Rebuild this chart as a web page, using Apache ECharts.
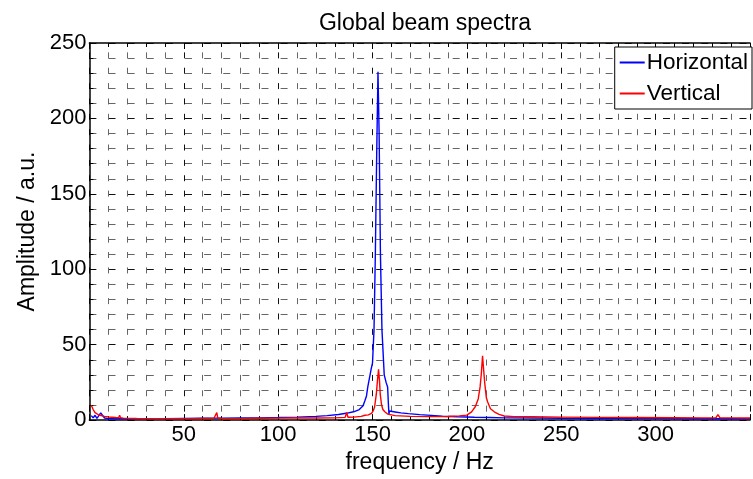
<!DOCTYPE html>
<html>
<head>
<meta charset="UTF-8" />
<title>Global beam spectra</title>
<script src="https://cdn.jsdelivr.net/npm/echarts@6.0.0/dist/echarts.min.js"></script>
<style>
  html, body { margin: 0; padding: 0; background: #fff; }
  #chart { width: 753px; height: 479px; }
</style>
</head>
<body>
<div id="chart"></div>
<script>
// Horizontal spectrum (frequency / Hz, amplitude / a.u.)
var freqH = [1, 2, 3, 4, 5, 6, 7, 8, 10, 14, 20, 30, 40, 50, 60, 70, 80, 90, 100, 110, 120, 126, 132, 136, 140, 143, 145, 146, 146.8, 147.5, 148.4, 149.3, 150, 150.8, 151.5, 152.2, 152.9, 153.5, 154.2, 155, 156.2, 157.2, 158, 158.4, 158.7, 159, 160, 162, 165, 169, 175, 181, 187, 195, 204, 212, 220, 235, 250, 265, 280, 300, 320, 335, 350];
var ampH = [3, 1.5, 3.2, 1.2, 2.5, 4.8, 4, 1.4, 1, 0.9, 0.9, 1, 1, 1.1, 1.2, 1.3, 1.4, 1.5, 1.7, 2, 2.5, 3, 3.7, 4.5, 5.5, 7, 9.5, 13, 16, 22, 28, 34, 38, 60, 110, 175, 231, 190, 110, 60, 30, 25, 22, 11, 4, 6, 5.8, 5.4, 4.8, 4.3, 3.6, 3.1, 2.6, 2.2, 1.9, 1.7, 1.5, 1.4, 1.2, 1.1, 1.0, 1.0, 0.9, 0.9, 0.9];

// Vertical spectrum
var freqV = [1, 2, 3, 4, 5, 6, 8, 10, 14, 15.5, 16, 16.5, 18, 25, 35, 45, 55, 66, 67.5, 68, 68.5, 70, 80, 89, 90, 91, 100, 110, 120, 130, 135.5, 136.3, 137, 140, 144, 146, 147.8, 149.5, 150.5, 151.1, 152, 152.6, 153.2, 153.7, 154.1, 154.8, 155.5, 156.5, 158, 162, 170, 180, 190, 196, 200, 202.5, 204.5, 206, 207, 207.6, 208.3, 208.9, 209.5, 210.3, 211, 212.5, 214.5, 217, 219.8, 225, 235, 250, 270, 290, 310, 325, 332, 333, 334, 340, 350];
var ampV = [9.8, 7, 5, 4, 3.4, 3, 2.5, 2.1, 1.7, 1.6, 3.2, 1.6, 1.3, 1.1, 1, 1, 1, 1.2, 5, 1.4, 1.2, 1.1, 1, 1.2, 2.5, 1.2, 1.3, 1.4, 1.4, 1.5, 1.8, 5, 1.9, 2, 2.5, 3.2, 3.5, 4.5, 6.5, 8.7, 17, 26, 33.6, 26, 17, 10, 7, 5.5, 4, 3, 2.5, 2.3, 2.4, 2.8, 3.3, 5.5, 9, 14, 22, 30, 42.7, 33, 24, 15, 12, 7.5, 5.5, 3.8, 2.7, 2.3, 2.2, 2, 1.8, 1.7, 1.6, 1.5, 1.6, 3.7, 1.6, 1.5, 1.4];

var seriesNames = ['Horizontal', 'Vertical'];
var xTicks = [0, 350, 50];   // min, max, step
var yTicks = [0, 250, 50];

function pairs(xs, ys) {
  var out = [];
  for (var i = 0; i < xs.length; i++) out.push([xs[i], ys[i]]);
  return out;
}

var font = 'Liberation Sans, Arial, Helvetica, sans-serif';
// matlab style dotted grid: vertical lines dash with the y minor step, horizontal with the x minor step
function gridStyle(color, dash, offset) {
  return { show: true, lineStyle: { color: color, width: 1, type: dash, dashOffset: offset } };
}

var myChart = echarts.init(document.getElementById('chart'));
var option = {
  animation: false,
  backgroundColor: '#fff',
  title: {
    text: 'Global beam spectra',
    left: 420,
    textAlign: 'center',
    top: 7,
    textStyle: { fontFamily: font, fontSize: 23, fontWeight: 'normal', color: '#000' }
  },
  legend: {
    data: seriesNames,
    orient: 'vertical',
    right: 1,
    top: 47,
    backgroundColor: '#fff',
    borderColor: '#000',
    borderWidth: 1,
    borderRadius: 0,
    padding: [4, 4, 4, 5],
    itemGap: 8,
    itemWidth: 25,
    itemHeight: 2,
    icon: 'rect',
    textStyle: { fontFamily: font, fontSize: 22.5, color: '#000', padding: [0, 0, 0, -3] }
  },
  grid: { left: 89.4, right: -5.6, top: 43, bottom: 54, containLabel: false },
  xAxis: [{
    type: 'value',
    min: xTicks[0], max: xTicks[1], interval: xTicks[2],
    name: 'frequency / Hz',
    nameLocation: 'middle',
    nameGap: 24,
    nameTextStyle: { fontFamily: font, fontSize: 23, color: '#000' },
    axisLine: { show: true, lineStyle: { color: '#000', width: 1.5 } },
    axisTick: { show: true, inside: true, length: 6, lineStyle: { color: '#000' } },
    minorTick: { show: true, splitNumber: 5, length: 4, lineStyle: { color: '#000' } },
    axisLabel: {
      fontFamily: font, fontSize: 22, color: '#000', margin: 4,
      formatter: function (v) { return (v === 0 || v === 350) ? '' : v; }
    },
    splitLine: gridStyle('#111', [6, 9.36], 6),
    minorSplitLine: gridStyle('#666', [6, 9.36], 6)
  }, {
    type: 'value',
    position: 'top',
    min: xTicks[0], max: xTicks[1], interval: xTicks[2],
    axisLine: { show: true, lineStyle: { color: '#000', width: 1.5 } },
    axisTick: { show: true, inside: true, length: 6, lineStyle: { color: '#000' } },
    minorTick: { show: true, splitNumber: 5, length: 4, lineStyle: { color: '#000' } },
    axisLabel: { show: false },
    splitLine: { show: false }
  }],
  yAxis: {
    type: 'value',
    min: yTicks[0], max: yTicks[1], interval: yTicks[2],
    name: 'Amplitude / a.u.',
    nameLocation: 'middle',
    nameGap: 41,
    nameTextStyle: { fontFamily: font, fontSize: 23, color: '#000' },
    axisLine: { show: true, lineStyle: { color: '#000', width: 1.5 } },
    axisTick: { show: true, inside: true, length: 6, lineStyle: { color: '#000' } },
    minorTick: { show: true, splitNumber: 5, length: 4, lineStyle: { color: '#000' } },
    axisLabel: { fontFamily: font, fontSize: 22, color: '#000', margin: 3 },
    splitLine: gridStyle('#111', [7, 12.12], 0),
    minorSplitLine: gridStyle('#666', [7, 12.12], 0)
  },
  series: [{
    name: seriesNames[0],
    type: 'line',
    data: pairs(freqH, ampH),
    showSymbol: false,
    symbol: 'none',
    color: '#0000ff',
    lineStyle: { width: 1.4, color: '#0000ff' },
    z: 3
  }, {
    name: seriesNames[1],
    type: 'line',
    data: pairs(freqV, ampV),
    showSymbol: false,
    symbol: 'none',
    color: '#ff0000',
    lineStyle: { width: 1.4, color: '#ff0000' },
    z: 4
  }]
};
myChart.setOption(option);
</script>
</body>
</html>
